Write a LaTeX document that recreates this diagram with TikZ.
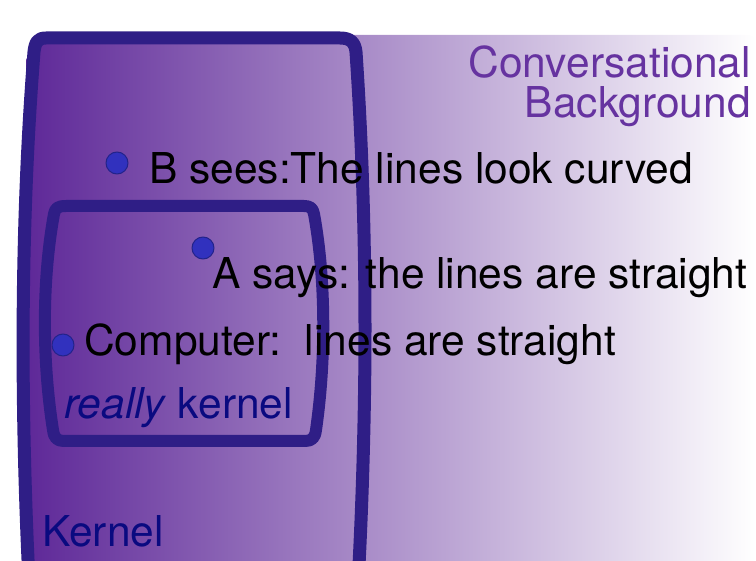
\documentclass[tikz,border=0pt]{standalone}
\usepackage{fontspec}
\setmainfont{TeX Gyre Heros}
\definecolor{bgpurple}{RGB}{94,40,152}
\definecolor{rimblue}{RGB}{47,30,134}
\definecolor{titlepurple}{RGB}{102,51,160}
\definecolor{labelblue}{RGB}{10,10,128}
\definecolor{dotblue}{RGB}{49,49,190}
\definecolor{dotrim}{RGB}{35,35,138}

\begin{document}
\begin{tikzpicture}[x=1pt,y=-1pt,line cap=round,line join=round,
  rim/.style={draw=rimblue,line width=13pt},
  point/.style={circle,fill=dotblue,draw=dotrim,line width=1pt,inner sep=0pt,minimum size=22pt},
  say/.style={anchor=base west,inner sep=0pt,font=\fontsize{42.5}{40}\selectfont}]
  \useasboundingbox (0,0) rectangle (756,561);
  \clip (0,0) rectangle (756,561);
  \shade[left color=bgpurple,right color=white] (26,620) -- (26,60) -- (40,35) [rounded corners=8pt] -- (756,35) [sharp corners] -- (756,620) -- cycle;
  \draw[rim] (46,38) -- (340,38) .. controls (350,38) and (355,42) .. (356,52)
    .. controls (368,230) and (368,420) .. (356,620)
    -- (31,620) .. controls (20,420) and (20,230) .. (34,52)
    .. controls (35,42) and (38,38) .. (46,38) -- cycle;
  \draw[rim,line width=12pt] (66,206) -- (304,206) .. controls (310,206) and (313,208) .. (314,214)
    .. controls (326,280) and (326,360) .. (316,430)
    .. controls (315,438) and (312,441) .. (305,441) -- (64,441)
    .. controls (57,441) and (54,438) .. (53,430)
    .. controls (42,360) and (42,280) .. (54,214)
    .. controls (55,208) and (58,206) .. (66,206) -- cycle;
  \node[point] (bdot) at (117,163) {};
  \node[point] (adot) at (203,248) {};
  \node[point] (cdot) at (63,345) {};
  \node[say] (bsees) at (149,184) {B sees:The lines look curved};
  \node[say] (asays) at (212,289) {A says: the lines are straight};
  \node[say] (computer) at (84,356) {Computer:\ \ lines are straight};
  \node[say,text=labelblue] (really) at (64,419) {\textit{really} kernel};
  \node[say,text=labelblue] (kernel) at (42,547) {Kernel};
  \node[say,anchor=base east,align=right,text=titlepurple] (convbg) at (751,118) {Conversational\\Background};
\end{tikzpicture}
\end{document}
